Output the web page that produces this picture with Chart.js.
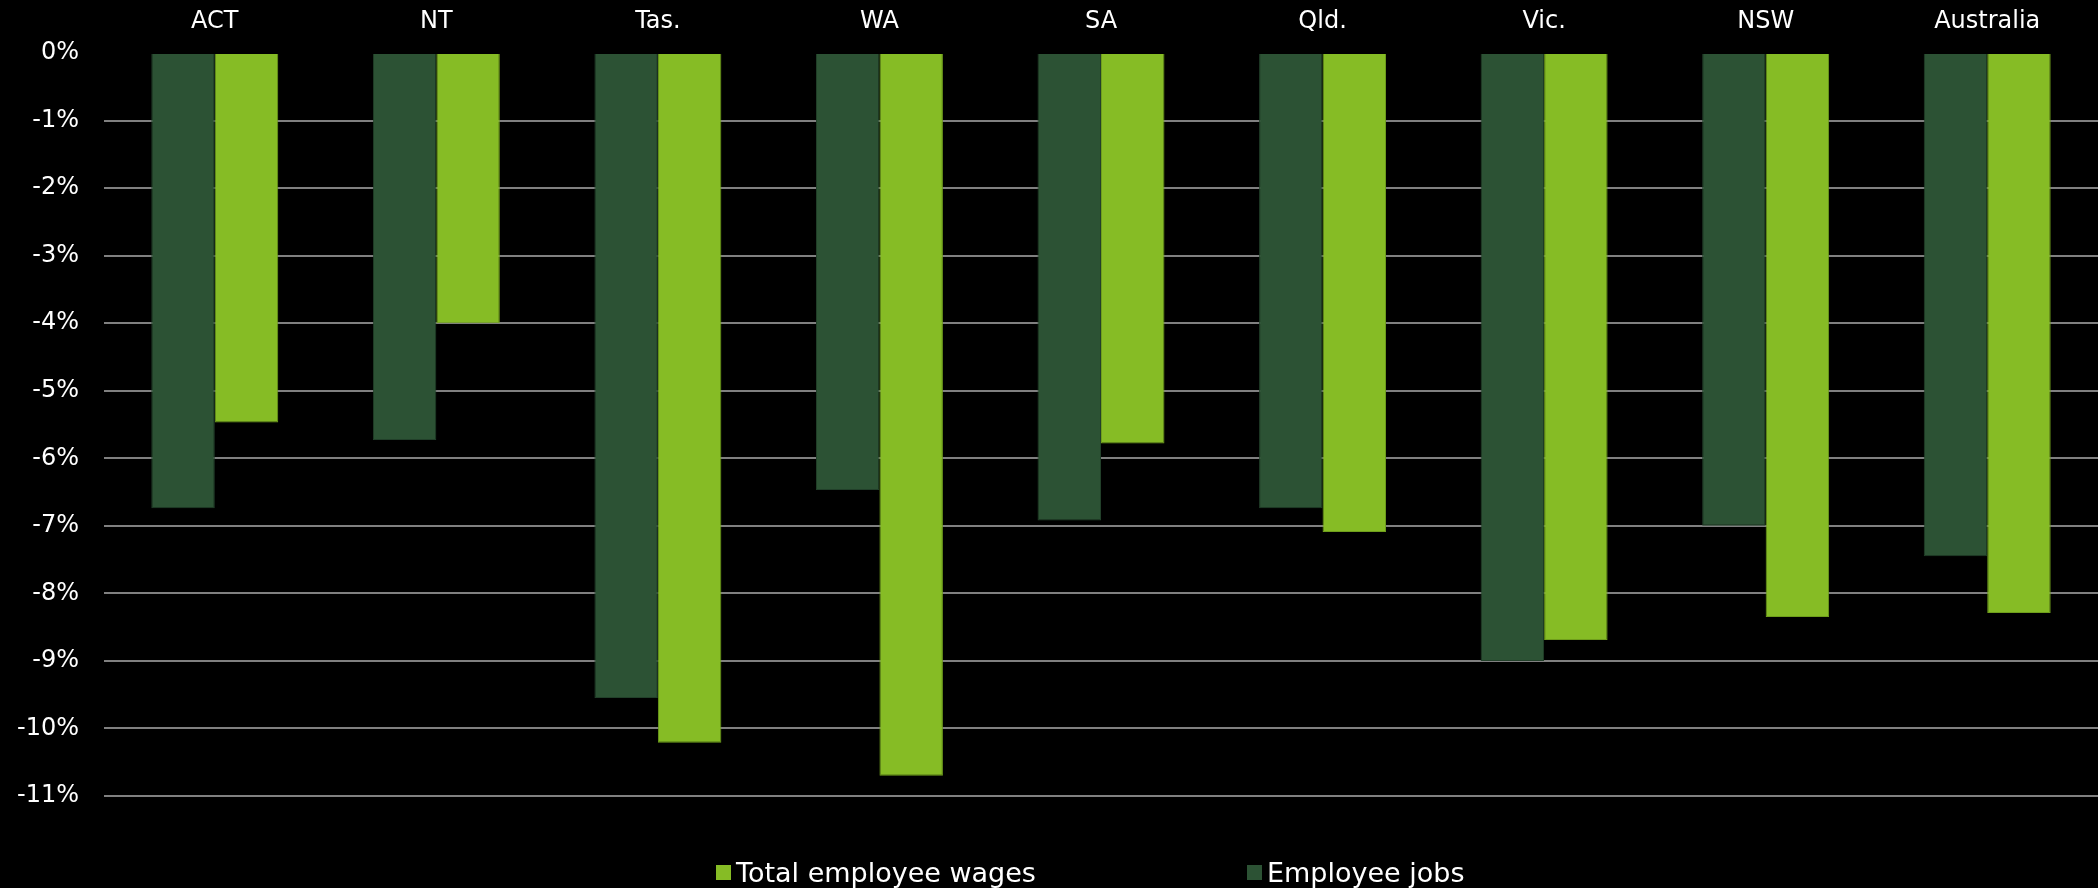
<!DOCTYPE html>
<html>
<head>
<meta charset="utf-8">
<script src="https://cdn.jsdelivr.net/npm/chart.js@4"></script>
<style>
  body { margin: 0; background: #000; }
  #wrap { position: relative; width: 2098px; height: 888px; background: #000; }
  .legend { position: absolute; top: 856px; height: 32px; display: flex; align-items: center;
            font-family: 'DejaVu Sans', Verdana, sans-serif; font-size: 27px; color: #fff; }
  .legend i { display: inline-block; width: 15px; height: 15px; margin-right: 5px; }
</style>
</head>
<body>
<div id="wrap">
  <canvas id="wagesChart"></canvas>
  <div class="legend" style="left:716px"><i style="background:#86BC25"></i>Total employee wages</div>
  <div class="legend" style="left:1247px"><i style="background:#2C5234"></i>Employee jobs</div>
</div>
<script>
let darkGreen = '#2C5234';
let lightGreen = '#86BC25';
let gridGrey = '#808080';

// Data (% change)
const states = ['ACT', 'NT', 'Tas.', 'WA', 'SA', 'Qld.', 'Vic.', 'NSW', 'Australia'];
const employeeJobs = [-6.74, -5.73, -9.55, -6.47, -6.92, -6.74, -9.0, -7.0, -7.45];
const totalWages = [-5.47, -4.0, -10.21, -10.7, -5.78, -7.09, -8.69, -8.35, -8.29];

const font = { family: "'DejaVu Sans', Verdana, sans-serif", size: 24 };

const data = {
  labels: states,
  datasets: [{
    label: 'Employee jobs',
    data: employeeJobs,
    backgroundColor: darkGreen,
    borderColor: '#22402a',
    borderWidth: 1,
  }, {
    label: 'Total employee wages',
    data: totalWages,
    backgroundColor: lightGreen,
    borderColor: '#6f9e1c',
    borderWidth: 1,
  }]
};

const options = {
  responsive: true,
  maintainAspectRatio: false,
  animation: false,
  layout: { padding: { top: 0, right: 0, bottom: 92, left: 0 } },
  datasets: {
    bar: { categoryPercentage: 0.573, barPercentage: 1 }
  },
  plugins: {
    legend: { display: false },
    tooltip: { enabled: false },
  },
  scales: {
    x: {
      position: 'top',
      grid: { display: false },
      border: { display: false },
      ticks: { color: '#fff', font: font, padding: 9 },
      afterFit: (scale) => { scale.height = 53; }
    },
    y: {
      min: -11,
      max: 0,
      border: { display: false },
      grid: {
        drawTicks: false,
        lineWidth: 2,
        color: (ctx) => ctx.tick && ctx.tick.value === 0 ? 'transparent' : gridGrey,
      },
      ticks: {
        stepSize: 1,
        color: '#fff',
        font: font,
        padding: 25,
        callback: (v) => v + '%'
      },
      afterFit: (scale) => { scale.width = 104; }
    }
  }
};

new Chart(document.getElementById('wagesChart'), {
  type: 'bar',
  data: data,
  options: options
});
</script>
</body>
</html>
